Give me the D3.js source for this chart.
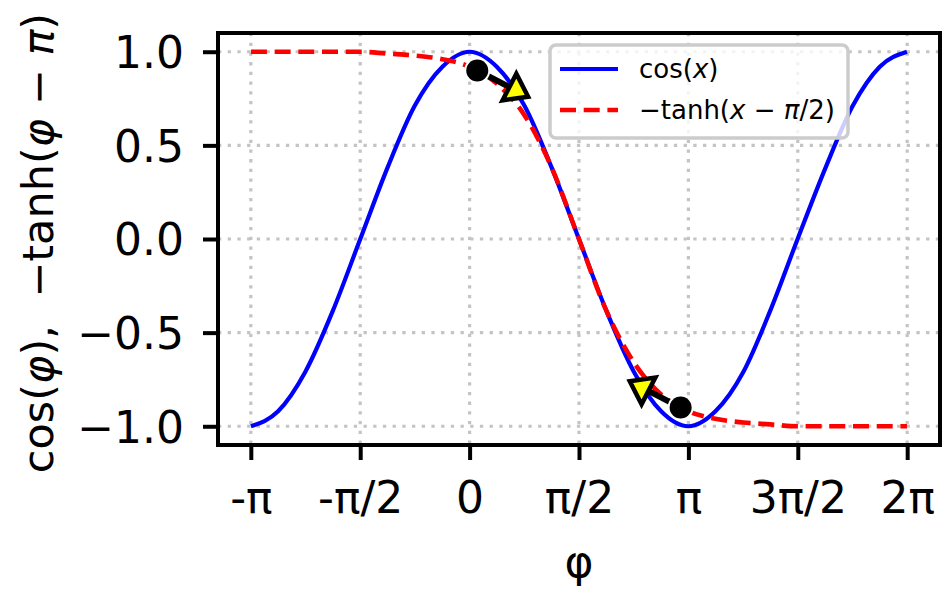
<!DOCTYPE html>
<html>
<head>
<meta charset="utf-8">
<script src="https://cdn.jsdelivr.net/npm/d3@7"></script>
<style>
  body { margin: 0; background: #fff; }
  svg text { font-family: "DejaVu Sans", sans-serif; fill: #000; }
</style>
</head>
<body>
<script>
// phi sample positions (radians) and the two curves
const phi = [-3.14, -2.75, -2.36, -1.96, -1.57, -1.18, -0.79, -0.39, 0, 0.39, 0.79, 1.18, 1.57,
             1.96, 2.36, 2.75, 3.14, 3.53, 3.93, 4.32, 4.71, 5.11, 5.50, 5.89, 6.28];
const cosVals = [-1, -0.92, -0.71, -0.38, 0, 0.38, 0.71, 0.92, 1, 0.92, 0.71, 0.38, 0,
                 -0.38, -0.71, -0.92, -1, -0.92, -0.71, -0.38, 0, 0.38, 0.71, 0.92, 1];
const tanhVals = [1, 1, 1, 1, 1, 0.99, 0.98, 0.96, 0.92, 0.83, 0.66, 0.38, 0,
                  -0.38, -0.66, -0.83, -0.92, -0.96, -0.98, -0.99, -1, -1, -1, -1, -1];

const xTicks = [-3.1416, -1.5708, 0, 1.5708, 3.1416, 4.7124, 6.2832];
const xTickLabels = ["-π", "-π/2", "0", "π/2", "π", "3π/2", "2π"];
const yTicks = [-1, -0.5, 0, 0.5, 1];
const yTickLabels = ["−1.0", "−0.5", "0.0", "0.5", "1.0"];

// annotation arrows: start (dot) and end (arrow tip)
const dots = [[0.11, 0.9], [3.03, -0.9]];
const tips = [[0.84, 0.76], [2.30, -0.76]];

const W = 949, H = 590;
const pL = 218, pR = 940, pT = 33, pB = 445;

const svg = d3.select("body").append("svg")
  .attr("width", W).attr("height", H);

const x = d3.scaleLinear().domain([-3.1416 - 0.15 * Math.PI, 6.2832 + 0.15 * Math.PI]).range([pL, pR]);
const y = d3.scaleLinear().domain([-1.1, 1.1]).range([pB, pT]);

// grid
const grid = svg.append("g");
grid.selectAll(".gx").data(xTicks).enter().append("line")
  .attr("x1", d => x(d)).attr("x2", d => x(d))
  .attr("y1", pT).attr("y2", pB)
  .attr("stroke", "#c4c4c4").attr("stroke-width", 3.2)
  .attr("stroke-dasharray", "3.3,6.4");
grid.selectAll(".gy").data(yTicks).enter().append("line")
  .attr("y1", d => y(d)).attr("y2", d => y(d))
  .attr("x1", pL).attr("x2", pR)
  .attr("stroke", "#c4c4c4").attr("stroke-width", 3.2)
  .attr("stroke-dasharray", "3.3,6.4");

svg.append("clipPath").attr("id", "clip")
  .append("rect").attr("x", pL).attr("y", pT).attr("width", pR - pL).attr("height", pB - pT);

const line = d3.line().x(d => x(d[0])).y(d => y(d[1])).curve(d3.curveMonotoneX);

const plot = svg.append("g").attr("clip-path", "url(#clip)");
plot.append("path")
  .datum(phi.map((p, i) => [p, cosVals[i]]))
  .attr("d", line).attr("fill", "none")
  .attr("stroke", "#0000ff").attr("stroke-width", 4.2);
plot.append("path")
  .datum(phi.map((p, i) => [p, tanhVals[i]]))
  .attr("d", line).attr("fill", "none")
  .attr("stroke", "#ff0000").attr("stroke-width", 4.6)
  .attr("stroke-dasharray", "16,7.7");

// annotations
const ann = svg.append("g");
dots.forEach((d, i) => {
  const x0 = x(d[0]), y0 = y(d[1]);
  const x1 = x(tips[i][0]), y1 = y(tips[i][1]);
  const dx = x1 - x0, dy = y1 - y0, len = Math.hypot(dx, dy);
  const ux = dx / len, uy = dy / len;
  const hl = 21, hw = 15;
  const bx = x1 - ux * hl, by = y1 - uy * hl;
  ann.append("line")
    .attr("x1", x0).attr("y1", y0).attr("x2", bx).attr("y2", by)
    .attr("stroke", "#000").attr("stroke-width", 6);
  ann.append("polygon")
    .attr("points", [[x1, y1], [bx - uy * hw, by + ux * hw], [bx + uy * hw, by - ux * hw]].map(p => p.join(",")).join(" "))
    .attr("fill", "#ffff00").attr("stroke", "#000").attr("stroke-width", 4.5)
    .attr("stroke-linejoin", "miter");
  ann.append("circle")
    .attr("cx", x0).attr("cy", y0).attr("r", 13).attr("fill", "#fff");
  ann.append("circle")
    .attr("cx", x0).attr("cy", y0).attr("r", 11).attr("fill", "#000");
});

// axes
const xAxis = svg.append("g").attr("transform", `translate(0,${pB})`)
  .call(d3.axisBottom(x).tickValues(xTicks).tickFormat((d, i) => xTickLabels[i]).tickSize(15).tickPadding(10));
const yAxis = svg.append("g").attr("transform", `translate(${pL},0)`)
  .call(d3.axisLeft(y).tickValues(yTicks).tickFormat((d, i) => yTickLabels[i]).tickSize(15).tickPadding(19));
[xAxis, yAxis].forEach(a => {
  a.select(".domain").remove();
  a.selectAll(".tick line").attr("stroke", "#000").attr("stroke-width", 4);
  a.selectAll(".tick text").style("font-family", "DejaVu Sans").style("font-size", "44px");
});
xAxis.selectAll(".tick text").attr("dy", null).attr("y", 68);
yAxis.selectAll(".tick text").attr("dy", "0.36em");

svg.append("rect")
  .attr("x", pL).attr("y", pT).attr("width", pR - pL).attr("height", pB - pT)
  .attr("fill", "none").attr("stroke", "#000").attr("stroke-width", 4);

// axis labels
svg.append("text")
  .attr("x", x(1.5708)).attr("y", 577)
  .attr("text-anchor", "middle").style("font-size", "44px")
  .text("φ");

const yl = svg.append("text")
  .attr("transform", `translate(53,${y(0) + 4}) rotate(-90)`)
  .attr("text-anchor", "middle").style("font-size", "43px").style("white-space", "pre");
yl.append("tspan").text("cos(");
yl.append("tspan").style("font-style", "italic").text("φ");
yl.append("tspan").text("),  −tanh(");
yl.append("tspan").style("font-style", "italic").text("φ");
yl.append("tspan").text(" − ");
yl.append("tspan").style("font-style", "italic").text("π");
yl.append("tspan").text(")");

// legend
const lg = svg.append("g");
lg.append("rect")
  .attr("x", 550).attr("y", 45).attr("width", 298).attr("height", 93).attr("rx", 6)
  .attr("fill", "#fff").attr("fill-opacity", 0.8)
  .attr("stroke", "#cccccc").attr("stroke-width", 3.5);
const entries = [
  { color: "#0000ff", dash: null, w: 4.2, parts: [["cos(", false], ["x", true], [")", false]] },
  { color: "#ff0000", dash: "16,7.7", w: 4.6, parts: [["−tanh(", false], ["x", true], [" − ", false], ["π", true], ["/2)", false]] }
];
entries.forEach((e, i) => {
  const yy = 69 + i * 41;
  lg.append("line").attr("x1", 560).attr("x2", 618).attr("y1", yy).attr("y2", yy)
    .attr("stroke", e.color).attr("stroke-width", e.w)
    .attr("stroke-dasharray", e.dash);
  const t = lg.append("text").attr("x", 639).attr("y", yy).attr("dy", "0.35em")
    .style("font-size", "26px").style("white-space", "pre");
  e.parts.forEach(p => t.append("tspan").style("font-style", p[1] ? "italic" : null).text(p[0]));
});
</script>
</body>
</html>
